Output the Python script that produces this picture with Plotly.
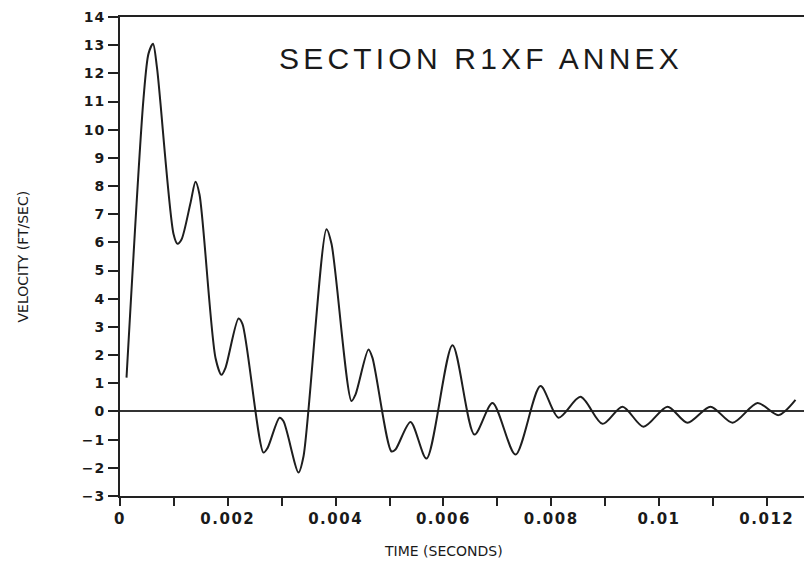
import plotly.graph_objects as go

# time in milliseconds (converted to seconds below), velocity in ft/sec
time_ms = [0.121, 0.436, 0.529, 0.612, 0.686, 0.993, 1.067, 1.141, 1.308, 1.401,
           1.475, 1.772, 1.883, 1.957, 2.199, 2.273, 2.662, 2.737, 2.960, 3.034,
           3.312, 3.404, 3.831, 3.924, 4.295, 4.369, 4.610, 4.684, 5.037, 5.111,
           5.390, 5.686, 6.169, 6.577, 6.911, 7.338, 7.801, 8.135, 8.544, 8.952,
           9.323, 9.712, 10.158, 10.529, 10.955, 11.364, 11.828, 12.217, 12.532]
velocity = [1.2, 11.1, 12.7, 13.05, 12.2, 6.3, 5.95, 6.1, 7.4, 8.15,
            7.7, 1.9, 1.3, 1.55, 3.3, 3.1, -1.46, -1.3, -0.22, -0.35,
            -2.17, -1.6, 6.47, 5.95, 0.37, 0.6, 2.2, 1.9, -1.42, -1.35,
            -0.37, -1.67, 2.35, -0.82, 0.3, -1.53, 0.9, -0.22, 0.52, -0.44,
            0.17, -0.54, 0.17, -0.4, 0.17, -0.4, 0.3, -0.13, 0.41]

x_tick_vals = [0, 0.001, 0.002, 0.003, 0.004, 0.005, 0.006, 0.007, 0.008, 0.009, 0.010, 0.011, 0.012]
x_tick_labels = ["0", "", "0.002", "", "0.004", "", "0.006", "", "0.008", "", "0.01", "", "0.012"]
y_tick_vals = list(range(-3, 15))
y_tick_labels = ["\u22123", "\u22122", "\u22121"] + [str(v) for v in range(0, 15)]

title_text = "SECTION R1XF ANNEX"
x_title = "TIME (SECONDS)"
y_title = "VELOCITY (FT/SEC)"

time_s = [t / 1000.0 for t in time_ms]


def spaced(s, px):
    return '<span style="letter-spacing:%spx">%s</span>' % (px, s) if s else ""


fig = go.Figure()
fig.add_trace(go.Scatter(
    x=time_s, y=velocity, mode="lines",
    line=dict(color="#1e1e1e", width=2, shape="spline", smoothing=0.8),
    hoverinfo="skip", showlegend=False,
))

fig.update_layout(
    width=812, height=569,
    margin=dict(l=112, r=0, t=9, b=81),
    paper_bgcolor="white", plot_bgcolor="white",
    xaxis=dict(
        range=[0, 0.012987], tickmode="array", tickvals=x_tick_vals,
        ticktext=[spaced(t, 1.5) for t in x_tick_labels],
        showgrid=False, zeroline=False, showline=True, linecolor="#222", linewidth=2,
        mirror=True, ticks="outside", ticklen=8, tickwidth=2, tickcolor="#222",
        tickfont=dict(family="DejaVu Sans", size=15, color="#1a1a1a", weight="bold"),
        automargin=False, ticklabeloverflow="allow",
    ),
    yaxis=dict(
        range=[-3, 14], tickmode="array", tickvals=y_tick_vals,
        ticktext=[spaced(t, 1) for t in y_tick_labels],
        showgrid=False, zeroline=True, zerolinecolor="#333", zerolinewidth=1.5,
        showline=True, linecolor="#222", linewidth=2,
        ticks="outside", ticklen=10, tickwidth=2, tickcolor="#222",
        tickfont=dict(family="DejaVu Sans", size=14, color="#1a1a1a", weight="bold"),
        automargin=False, ticklabeloverflow="allow",
    ),
    annotations=[
        dict(text=spaced(title_text, 4.2),
             xref="paper", yref="paper", x=0.5157, y=0.9136,
             xanchor="center", yanchor="middle", showarrow=False,
             font=dict(family="Liberation Sans", size=30, color="#1a1a1a")),
        dict(text=x_title, xref="x", yref="paper", x=0.006, y=-0.1148,
             xanchor="center", yanchor="middle", showarrow=False,
             font=dict(family="DejaVu Sans", size=14, color="#1a1a1a")),
        dict(text=y_title, xref="paper", yref="paper", x=-0.14, y=0.5,
             xanchor="center", yanchor="middle", showarrow=False, textangle=-90,
             font=dict(family="DejaVu Sans", size=14, color="#1a1a1a")),
    ],
)

fig.write_html("out.html")
